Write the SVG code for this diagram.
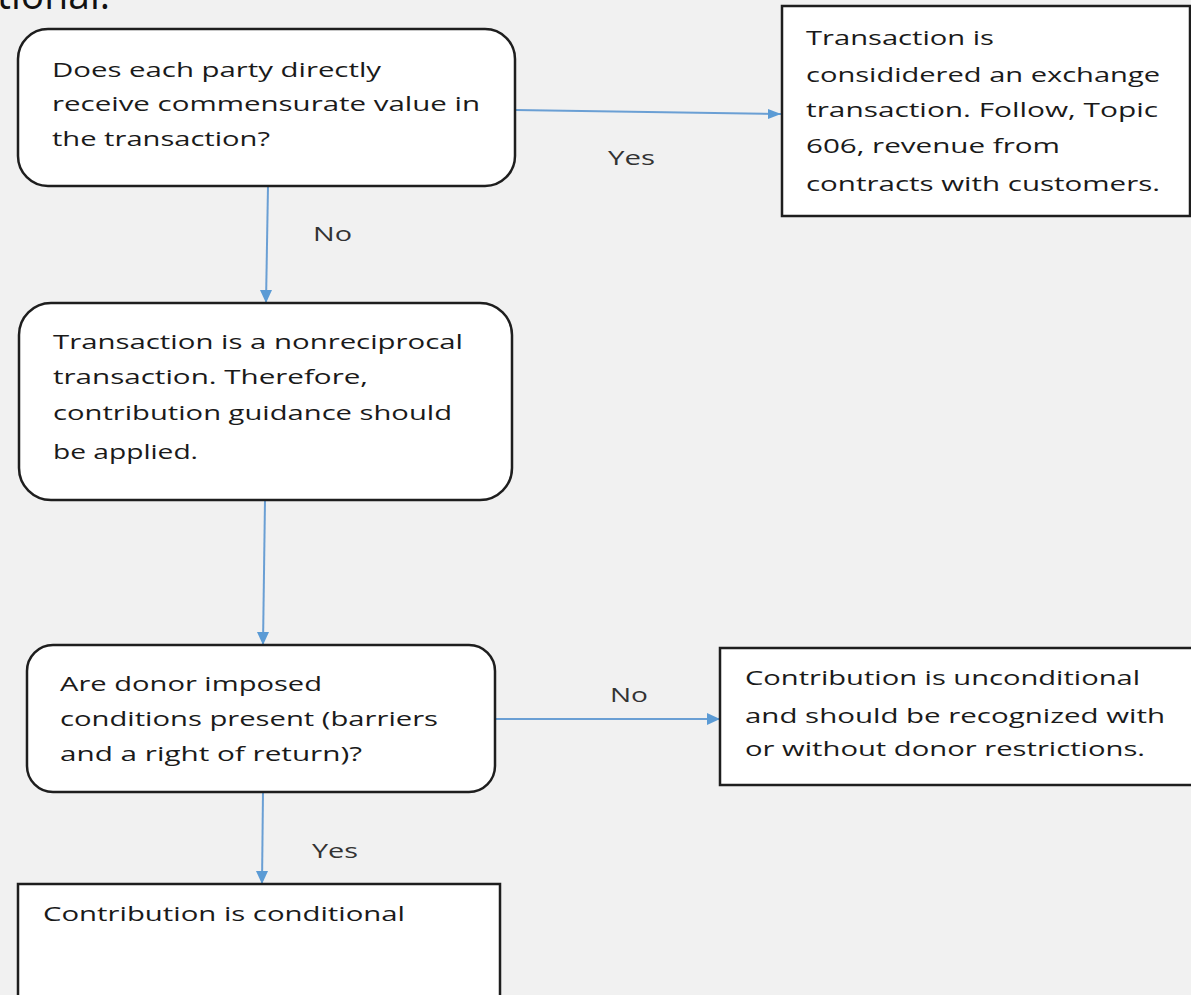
<svg xmlns="http://www.w3.org/2000/svg" width="1191" height="995" viewBox="0 0 1191 995">
<style>
.bg{fill:#f1f1f1}
.node{fill:#fff;stroke:#1e1e1e;stroke-width:2.5}
.t{font-family:"Open Sans","Liberation Sans",sans-serif;font-size:20px;fill:#1a1a1a;dominant-baseline:central}
.lbl{font-family:"Open Sans","Liberation Sans",sans-serif;font-size:20px;fill:#333;dominant-baseline:central}
.edge{stroke:#6a9fd4;stroke-width:2;fill:none;marker-end:url(#ah)}
</style>
<defs>
<marker id="ah" viewBox="0 0 10 10" refX="9" refY="5" markerWidth="7" markerHeight="6" orient="auto" markerUnits="userSpaceOnUse" preserveAspectRatio="none">
<path d="M0,0 L10,5 L0,10 z" fill="#5b9bd5"/>
</marker>
</defs>
<rect class="bg" x="0" y="0" width="1191" height="995"/>
<text x="-3" y="9" font-family="'Open Sans','Liberation Sans',sans-serif" font-size="40" fill="#111" textLength="113" lengthAdjust="spacingAndGlyphs">tional.</text>

<g id="connectors">
<path class="edge" d="M515,110 L781,114" style="marker-end:none"/>
<path d="M768,109 L781,114 L768,119 z" fill="#5b9bd5"/>
<path d="M268,186 L266,303" stroke="#6a9fd4" stroke-width="2" fill="none"/>
<path d="M260,290 L266,303 L272,290 z" fill="#5b9bd5"/>
<path d="M265,500 L263,645" stroke="#6a9fd4" stroke-width="2" fill="none"/>
<path d="M257,632 L263,645 L269,632 z" fill="#5b9bd5"/>
<path d="M495,719 L720,719" stroke="#6a9fd4" stroke-width="2" fill="none"/>
<path d="M707,713 L720,719 L707,725 z" fill="#5b9bd5"/>
<path d="M263,792 L262,884" stroke="#6a9fd4" stroke-width="2" fill="none"/>
<path d="M256,871 L262,884 L268,871 z" fill="#5b9bd5"/>
<text class="lbl" x="608" y="157" textLength="47" lengthAdjust="spacingAndGlyphs">Yes</text>
<text class="lbl" x="313" y="233" textLength="39" lengthAdjust="spacingAndGlyphs">No</text>
<text class="lbl" x="610" y="694" textLength="38" lengthAdjust="spacingAndGlyphs">No</text>
<text class="lbl" x="312" y="850" textLength="46" lengthAdjust="spacingAndGlyphs">Yes</text>
</g>

<g id="q1">
<rect class="node" x="18" y="29" width="497" height="157" rx="30"/>
<text class="t" x="52" y="69" textLength="329" lengthAdjust="spacingAndGlyphs">Does each party directly</text>
<text class="t" x="52" y="103" textLength="428" lengthAdjust="spacingAndGlyphs">receive commensurate value in</text>
<text class="t" x="52" y="138" textLength="218" lengthAdjust="spacingAndGlyphs">the transaction?</text>
</g>

<g id="exchange">
<rect class="node" x="782" y="6" width="408" height="210"/>
<text class="t" x="806" y="37" textLength="188" lengthAdjust="spacingAndGlyphs">Transaction is</text>
<text class="t" x="806" y="74" textLength="354" lengthAdjust="spacingAndGlyphs">consididered an exchange</text>
<text class="t" x="806" y="109" textLength="352" lengthAdjust="spacingAndGlyphs">transaction. Follow, Topic</text>
<text class="t" x="806" y="145" textLength="254" lengthAdjust="spacingAndGlyphs">606, revenue from</text>
<text class="t" x="806" y="183" textLength="354" lengthAdjust="spacingAndGlyphs">contracts with customers.</text>
</g>

<g id="nonreciprocal">
<rect class="node" x="19" y="303" width="493" height="197" rx="32"/>
<text class="t" x="53" y="341" textLength="410" lengthAdjust="spacingAndGlyphs">Transaction is a nonreciprocal</text>
<text class="t" x="53" y="376" textLength="315" lengthAdjust="spacingAndGlyphs">transaction. Therefore,</text>
<text class="t" x="53" y="412" textLength="399" lengthAdjust="spacingAndGlyphs">contribution guidance should</text>
<text class="t" x="53" y="451" textLength="145" lengthAdjust="spacingAndGlyphs">be applied.</text>
</g>

<g id="q2">
<rect class="node" x="27" y="645" width="468" height="147" rx="26"/>
<text class="t" x="60" y="683" textLength="262" lengthAdjust="spacingAndGlyphs">Are donor imposed</text>
<text class="t" x="60" y="718" textLength="378" lengthAdjust="spacingAndGlyphs">conditions present (barriers</text>
<text class="t" x="60" y="753" textLength="302" lengthAdjust="spacingAndGlyphs">and a right of return)?</text>
</g>

<g id="unconditional">
<rect class="node" x="720" y="648" width="475" height="137"/>
<text class="t" x="745" y="677" textLength="395" lengthAdjust="spacingAndGlyphs">Contribution is unconditional</text>
<text class="t" x="745" y="715" textLength="420" lengthAdjust="spacingAndGlyphs">and should be recognized with</text>
<text class="t" x="745" y="748" textLength="400" lengthAdjust="spacingAndGlyphs">or without donor restrictions.</text>
</g>

<g id="conditional">
<rect class="node" x="18" y="884" width="482" height="130"/>
<text class="t" x="43" y="913" textLength="362" lengthAdjust="spacingAndGlyphs">Contribution is conditional</text>
</g>
</svg>
